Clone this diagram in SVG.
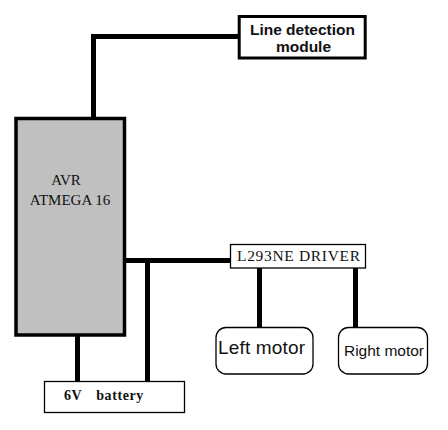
<svg xmlns="http://www.w3.org/2000/svg" width="448" height="430" viewBox="0 0 448 430">
<style>
.wire{stroke:#000;stroke-width:5;fill:none;stroke-linecap:butt}
.thick{fill:#fff;stroke:#000;stroke-width:3}
.thin{fill:#fff;stroke:#000;stroke-width:1.3}
.sans{font-family:"Liberation Sans",Arial,sans-serif;fill:#111}
.serif{font-family:"Liberation Serif","Times New Roman",serif;fill:#111}
</style>
<rect width="448" height="430" fill="#fff"/>
<g id="connectors">
<polyline class="wire" points="93.5,118 93.5,36.5 239,36.5"/>
<line class="wire" x1="125" y1="260.5" x2="231" y2="260.5"/>
<line class="wire" x1="147.5" y1="260.5" x2="147.5" y2="382"/>
<line class="wire" x1="77.5" y1="335" x2="77.5" y2="382"/>
<line class="wire" x1="259.5" y1="268" x2="259.5" y2="328"/>
<line class="wire" x1="355.5" y1="268" x2="355.5" y2="328"/>
</g>
<g id="line-detection">
<rect class="thick" x="239.2" y="16.5" width="126" height="41.5"/>
<text class="sans" x="302.5" y="35" font-size="15.5" font-weight="bold" text-anchor="middle">Line detection</text>
<text class="sans" x="303.5" y="52" font-size="15.5" font-weight="bold" text-anchor="middle">module</text>
</g>
<g id="avr">
<rect x="16" y="118.5" width="108.5" height="216.5" fill="#c0c0c0" stroke="#000" stroke-width="3.5"/>
<text class="serif" x="66" y="185" font-size="15" text-anchor="middle">AVR</text>
<text class="serif" x="70" y="205" font-size="15" text-anchor="middle">ATMEGA 16</text>
</g>
<g id="driver">
<rect class="thin" x="230.5" y="244.5" width="135" height="23.5"/>
<text class="serif" x="298.5" y="261" font-size="15.5" text-anchor="middle" textLength="123">L293NE DRIVER</text>
</g>
<g id="battery">
<rect class="thin" x="44.5" y="381.5" width="140" height="31"/>
<text class="serif" x="64" y="399.5" font-size="14" font-weight="bold" letter-spacing="0.6">6V <tspan dx="10">battery</tspan></text>
</g>
<g id="left-motor">
<rect class="thin" x="216" y="327.5" width="97" height="46.5" rx="10"/>
<text class="sans" x="218" y="354" font-size="19" textLength="87">Left motor</text>
</g>
<g id="right-motor">
<rect class="thin" x="338.5" y="327.5" width="89" height="46.5" rx="10"/>
<text class="sans" x="344" y="356" font-size="15.5" textLength="80">Right motor</text>
</g>
</svg>
